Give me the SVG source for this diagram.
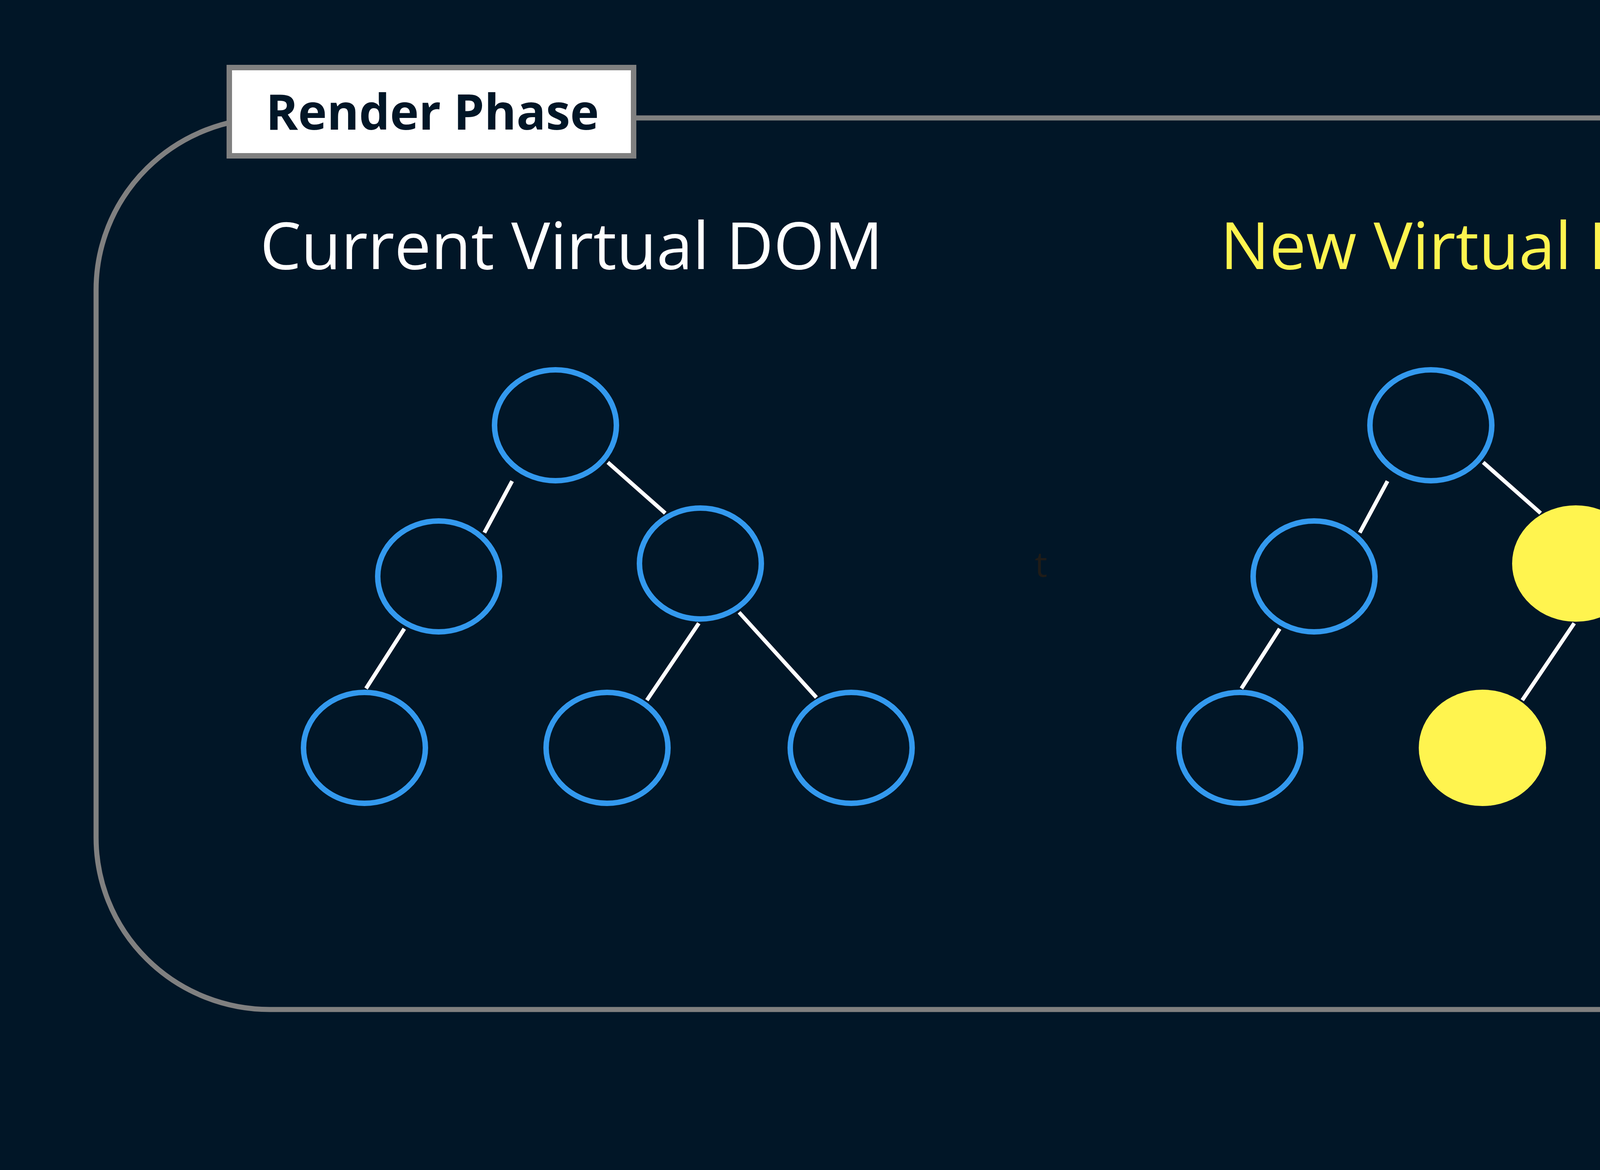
<svg xmlns="http://www.w3.org/2000/svg" width="5235" height="2996" viewBox="0 0 5235 2996">
<style>
.node{fill:none;stroke:#3399ee;stroke-width:14}
.hot{fill:#fff44f;stroke:none}
.edge{stroke:#ffffff;stroke-width:10;stroke-linecap:butt}
.title{font-family:"Open Sans","Noto Sans","Liberation Sans",sans-serif;font-size:167px;text-anchor:middle}
</style>
<rect x="0" y="0" width="5235" height="2996" fill="#011627"/>
<g id="frame">
<rect x="246" y="302" width="4836" height="2283" rx="445" ry="440" fill="none" stroke="#808080" stroke-width="13"/>
</g>
<g id="label">
<rect x="587" y="173" width="1035" height="226" fill="#ffffff" stroke="#808080" stroke-width="14"/>
<text x="1107" y="332" font-family="'Open Sans','Noto Sans','Liberation Sans',sans-serif" font-weight="700" font-size="125" text-anchor="middle" fill="#011627">Render Phase</text>
</g>
<g id="titles">
<text class="title" x="1463" y="689" fill="#ffffff">Current Virtual DOM</text>
<text class="title" x="3796" y="689" fill="#fff44f">New Virtual DOM</text>
<text x="2665" y="1477" font-family="'Open Sans','Noto Sans',sans-serif" font-size="90" text-anchor="middle" fill="#1f1c18">t</text>
</g>
<g id="connectors">
<line class="edge" x1="1311" y1="1232" x2="1240" y2="1364"/>
<line class="edge" x1="1556" y1="1184" x2="1703" y2="1314"/>
<line class="edge" x1="1035" y1="1610" x2="937" y2="1763"/>
<line class="edge" x1="1789" y1="1596" x2="1656" y2="1793"/>
<line class="edge" x1="1892" y1="1568" x2="2090" y2="1786"/>
<line class="edge" x1="3552" y1="1232" x2="3481" y2="1364"/>
<line class="edge" x1="3797" y1="1184" x2="3944" y2="1314"/>
<line class="edge" x1="3276" y1="1610" x2="3178" y2="1763"/>
<line class="edge" x1="4030" y1="1596" x2="3897" y2="1793"/>
<line class="edge" x1="4133" y1="1568" x2="4331" y2="1786"/>
</g>
<g id="current-root"><ellipse class="node" cx="1422" cy="1089" rx="156" ry="142"/></g>
<g id="current-left"><ellipse class="node" cx="1123" cy="1476" rx="156" ry="142"/></g>
<g id="current-right"><ellipse class="node" cx="1793" cy="1443" rx="156" ry="142"/></g>
<g id="current-leaf1"><ellipse class="node" cx="933" cy="1915" rx="156" ry="142"/></g>
<g id="current-leaf2"><ellipse class="node" cx="1554" cy="1915" rx="156" ry="142"/></g>
<g id="current-leaf3"><ellipse class="node" cx="2179" cy="1915" rx="156" ry="142"/></g>
<g id="new-root"><ellipse class="node" cx="3663" cy="1089" rx="156" ry="142"/></g>
<g id="new-left"><ellipse class="node" cx="3364" cy="1476" rx="156" ry="142"/></g>
<g id="new-right"><ellipse class="hot" cx="4034" cy="1443" rx="163" ry="149"/></g>
<g id="new-leaf1"><ellipse class="node" cx="3174" cy="1915" rx="156" ry="142"/></g>
<g id="new-leaf2"><ellipse class="hot" cx="3795" cy="1915" rx="163" ry="149"/></g>
<g id="new-leaf3"><ellipse class="hot" cx="4420" cy="1915" rx="163" ry="149"/></g>
</svg>
